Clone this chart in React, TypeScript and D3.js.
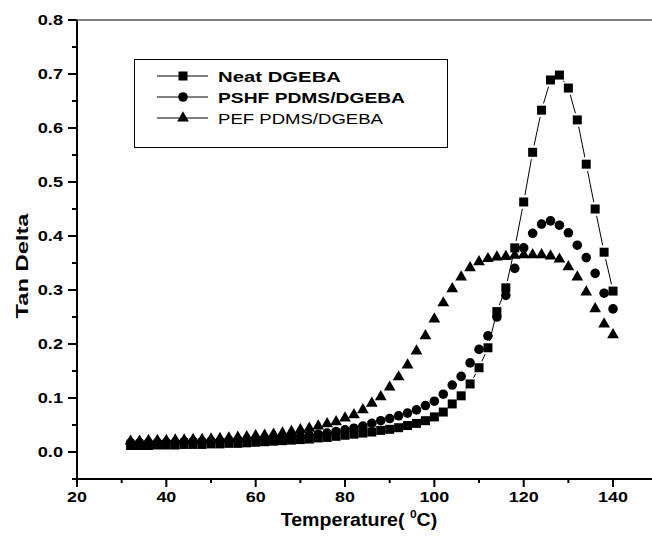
import React, { useRef, useEffect } from "react";
import * as d3 from "d3";

const temps = [32, 34, 36, 38, 40, 42, 44, 46, 48, 50, 52, 54, 56, 58, 60, 62, 64, 66, 68, 70, 72, 74, 76, 78, 80, 82, 84, 86, 88, 90, 92, 94, 96, 98, 100, 102, 104, 106, 108, 110, 112, 114, 116, 118, 120, 122, 124, 126, 128, 130, 132, 134, 136, 138, 140];

const neatDgeba = [0.012, 0.012, 0.012, 0.013, 0.013, 0.013, 0.014, 0.014, 0.014, 0.015, 0.015, 0.016, 0.016, 0.017, 0.018, 0.019, 0.020, 0.021, 0.022, 0.023, 0.024, 0.026, 0.027, 0.029, 0.031, 0.033, 0.035, 0.037, 0.040, 0.042, 0.045, 0.049, 0.053, 0.058, 0.065, 0.074, 0.089, 0.104, 0.126, 0.156, 0.193, 0.26, 0.304, 0.378, 0.463, 0.555, 0.633, 0.689, 0.698, 0.674, 0.615, 0.533, 0.45, 0.37, 0.298];

const pshfDgeba = [0.017, 0.017, 0.017, 0.018, 0.018, 0.018, 0.019, 0.019, 0.019, 0.020, 0.020, 0.021, 0.022, 0.022, 0.023, 0.024, 0.025, 0.026, 0.027, 0.029, 0.031, 0.033, 0.035, 0.038, 0.041, 0.044, 0.048, 0.053, 0.058, 0.062, 0.067, 0.072, 0.078, 0.086, 0.094, 0.107, 0.124, 0.14, 0.165, 0.19, 0.215, 0.25, 0.29, 0.34, 0.378, 0.405, 0.422, 0.428, 0.42, 0.406, 0.383, 0.36, 0.331, 0.294, 0.265];

const pefDgeba = [0.020, 0.020, 0.021, 0.021, 0.021, 0.022, 0.022, 0.023, 0.023, 0.024, 0.025, 0.026, 0.027, 0.028, 0.030, 0.031, 0.033, 0.035, 0.038, 0.041, 0.044, 0.048, 0.052, 0.056, 0.063, 0.069, 0.078, 0.090, 0.102, 0.120, 0.139, 0.161, 0.187, 0.215, 0.246, 0.276, 0.302, 0.324, 0.341, 0.352, 0.358, 0.361, 0.362, 0.364, 0.365, 0.365, 0.365, 0.363, 0.357, 0.343, 0.324, 0.296, 0.265, 0.237, 0.217];

const seriesNames = ["Neat DGEBA", "PSHF PDMS/DGEBA", "PEF PDMS/DGEBA"];
const xTicks = [20, 40, 60, 80, 100, 120, 140];
const yTicks = [0.0, 0.1, 0.2, 0.3, 0.4, 0.5, 0.6, 0.7, 0.8];

const FONT = "'Liberation Sans', Arial, Helvetica, sans-serif";

const App = () => {
  const svgRef = useRef<SVGSVGElement>(null);
  const width = 652;
  const height = 536;

  useEffect(() => {
    const svg = d3.select(svgRef.current);
    svg.selectAll("*").remove();

    const x = d3.scaleLinear().domain([20, 150]).range([77, 657.7]);
    const y = d3.scaleLinear().domain([-0.05, 0.8]).range([479, 20]);

    const symbols = [d3.symbolSquare, d3.symbolCircle, d3.symbolTriangle];
    const sizes = [81, 72, 60];
    const series = [neatDgeba, pshfDgeba, pefDgeba];

    // frame: left axis, bottom axis, top line
    svg.append("line").attr("x1", 77).attr("x2", 77).attr("y1", y(0.8)).attr("y2", y(-0.05))
      .attr("stroke", "#000").attr("stroke-width", 2);
    svg.append("line").attr("x1", 76).attr("x2", width).attr("y1", y(-0.05)).attr("y2", y(-0.05))
      .attr("stroke", "#000").attr("stroke-width", 2);
    svg.append("line").attr("x1", 77).attr("x2", width).attr("y1", y(0.8)).attr("y2", y(0.8))
      .attr("stroke", "#000").attr("stroke-width", 1);

    // y ticks
    const yg = svg.append("g");
    d3.range(-0.05, 0.81, 0.05).forEach((v) => {
      const major = Math.abs(Math.round(v * 10) - v * 10) < 1e-6;
      yg.append("line").attr("x1", major ? 68 : 72).attr("x2", 77)
        .attr("y1", y(v)).attr("y2", y(v)).attr("stroke", "#000").attr("stroke-width", 2);
    });
    yTicks.forEach((v) => {
      yg.append("text")
        .attr("transform", `translate(63,${y(v) + 5}) scale(1.3,1)`)
        .attr("text-anchor", "end")
        .attr("font-family", FONT).attr("font-weight", "bold").attr("font-size", 14)
        .text(v.toFixed(1));
    });

    // x ticks
    const xg = svg.append("g");
    d3.range(20, 151, 10).forEach((t) => {
      const major = t % 20 === 0;
      xg.append("line").attr("x1", x(t)).attr("x2", x(t))
        .attr("y1", y(-0.05)).attr("y2", y(-0.05) + (major ? 8 : 4))
        .attr("stroke", "#000").attr("stroke-width", 2);
    });
    xTicks.forEach((t) => {
      xg.append("text")
        .attr("transform", `translate(${x(t)},502) scale(1.28,1)`)
        .attr("text-anchor", "middle")
        .attr("font-family", FONT).attr("font-weight", "bold").attr("font-size", 14)
        .text(t);
    });

    // axis titles
    const xt = svg.append("text")
      .attr("transform", "translate(359,526) scale(1.09,1)")
      .attr("text-anchor", "middle")
      .attr("font-family", FONT).attr("font-weight", "bold").attr("font-size", 18);
    xt.append("tspan").text("Temperature( ");
    xt.append("tspan").attr("font-size", 11).attr("dy", -8).text("0");
    xt.append("tspan").attr("dy", 8).text("C)");

    svg.append("text")
      .attr("transform", "translate(28,266) rotate(-90)")
      .attr("text-anchor", "middle")
      .attr("font-family", FONT).attr("font-weight", "bold").attr("font-size", 17)
      .attr("textLength", 105).attr("lengthAdjust", "spacingAndGlyphs")
      .text("Tan Delta");

    // connecting segments for Neat DGEBA, with gaps at the markers
    const gap = 7;
    const segs = svg.append("g").attr("stroke", "#000").attr("stroke-width", 1);
    for (let i = 0; i < temps.length - 1; i++) {
      const x1 = x(temps[i]), y1 = y(neatDgeba[i]);
      const x2 = x(temps[i + 1]), y2 = y(neatDgeba[i + 1]);
      const len = Math.hypot(x2 - x1, y2 - y1);
      if (len <= gap * 2) continue;
      const ux = (x2 - x1) / len, uy = (y2 - y1) / len;
      segs.append("line")
        .attr("x1", x1 + ux * gap).attr("y1", y1 + uy * gap)
        .attr("x2", x2 - ux * gap).attr("y2", y2 - uy * gap);
    }

    // markers
    series.forEach((vals, si) => {
      const sym = d3.symbol().type(symbols[si]).size(sizes[si]);
      svg.append("g")
        .selectAll("path")
        .data(vals)
        .join("path")
        .attr("transform", (d, i) => `translate(${x(temps[i])},${y(d)})`)
        .attr("d", sym() as string)
        .attr("fill", "#000");
    });

    // legend
    const lg = svg.append("g");
    lg.append("rect").attr("x", 134.5).attr("y", 59.5).attr("width", 313).attr("height", 88)
      .attr("fill", "#fff").attr("stroke", "#000").attr("stroke-width", 1);
    const rowY = [76, 97, 118];
    const labelW = [123, 187, 165];
    seriesNames.forEach((name, i) => {
      lg.append("line").attr("x1", 157).attr("x2", 208).attr("y1", rowY[i]).attr("y2", rowY[i])
        .attr("stroke", "#000").attr("stroke-width", 1);
      lg.append("path")
        .attr("transform", `translate(183,${rowY[i]})`)
        .attr("d", d3.symbol().type(symbols[i]).size(sizes[i])() as string)
        .attr("fill", "#000");
      lg.append("text")
        .attr("x", 218).attr("y", rowY[i] + 5.5)
        .attr("font-family", FONT).attr("font-weight", i === 2 ? "normal" : "bold").attr("font-size", 15.5)
        .attr("textLength", labelW[i]).attr("lengthAdjust", "spacingAndGlyphs")
        .text(name);
    });
  }, []);

  return (
    <svg
      ref={svgRef}
      width={width}
      height={height}
      viewBox={`0 0 ${width} ${height}`}
      style={{ position: "absolute", left: 0, top: 0, background: "#fff" }}
    />
  );
};

export default App;
